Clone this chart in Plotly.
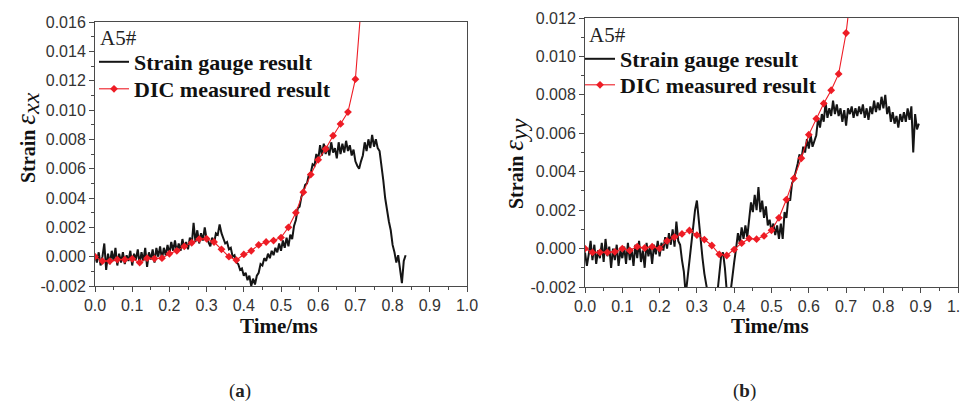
import numpy as np
import plotly.graph_objects as go

W, H = 968, 402

# ---------------- data ----------------
GAUGE_STEP_MS = 0.005  # sampling step of the strain-gauge records

gauge_xx = [
    0.0001, -0.0004, 0.0003, -0.0006, 0.0000, 0.0009, -0.0009, 0.0002, -0.0005, 0.0004,
    -0.0003, 0.0006, -0.0006, 0.0002, -0.0004, 0.0003, -0.0005, 0.0001, -0.0003, 0.0004,
    -0.0006, 0.0002, -0.0002, 0.0005, -0.0005, 0.0003, -0.0003, 0.0006, -0.0007, 0.0003,
    -0.0002, 0.0005, -0.0004, 0.0006, 0.0000, 0.0007, -0.0002, 0.0006, 0.0001, 0.0008,
    0.0002, 0.0010, 0.0004, 0.0011, 0.0003, 0.0009, 0.0004, 0.0012, 0.0006, 0.0010,
    0.0005, 0.0013, 0.0008, 0.0023, 0.0010, 0.0018, 0.0009, 0.0016, 0.0011, 0.0020,
    0.0012, 0.0010, 0.0007, 0.0013, 0.0009, 0.0016, 0.0015, 0.0022, 0.0016, 0.0012,
    0.0009, 0.0010, 0.0005, 0.0006, 0.0000, 0.0001, -0.0004, -0.0005, -0.0009, -0.0008,
    -0.0013, -0.0011, -0.0016, -0.0013, -0.0020, -0.0015, -0.0019, -0.0013, -0.0011, -0.0005,
    -0.0006, -0.0001, -0.0003, 0.0002, -0.0001, 0.0004, 0.0001, 0.0006, 0.0003, 0.0009,
    0.0004, 0.0011, 0.0006, 0.0013, 0.0007, 0.0015, 0.0012, 0.0021, 0.0025, 0.0033,
    0.0034, 0.0041, 0.0044, 0.0049, 0.0050, 0.0056, 0.0057, 0.0063, 0.0062, 0.0070,
    0.0066, 0.0076, 0.0069, 0.0077, 0.0070, 0.0075, 0.0069, 0.0078, 0.0071, 0.0074,
    0.0067, 0.0078, 0.0070, 0.0077, 0.0071, 0.0079, 0.0072, 0.0076, 0.0069, 0.0073,
    0.0065, 0.0062, 0.0060, 0.0065, 0.0069, 0.0078, 0.0072, 0.0080, 0.0074, 0.0083,
    0.0075, 0.0080, 0.0074, 0.0072, 0.0063, 0.0052, 0.0040, 0.0030, 0.0024, 0.0018,
    0.0008, 0.0003, -0.0004, 0.0001, -0.0010, -0.0018, -0.0003, 0.0001,
]

gauge_yy = [
    -0.0002, -0.0009, -0.0003, 0.0004, -0.0006, 0.0002, -0.0008, -0.0001, -0.0005, 0.0003,
    -0.0007, 0.0005, -0.0004, 0.0001, -0.0010, 0.0000, -0.0006, 0.0002, -0.0009, -0.0001,
    -0.0005, 0.0001, -0.0008, 0.0003, -0.0006, 0.0000, -0.0009, 0.0002, -0.0005, 0.0004,
    -0.0007, -0.0001, -0.0010, 0.0003, -0.0004, 0.0001, -0.0008, 0.0002, -0.0003, 0.0004,
    -0.0004, 0.0003, -0.0001, 0.0006, 0.0000, 0.0008, 0.0002, 0.0010, 0.0001, 0.0014,
    0.0004, 0.0002, -0.0006, -0.0012, -0.0024, -0.0015, -0.0005, 0.0003, 0.0010, 0.0020,
    0.0025, 0.0014, 0.0005, -0.0005, -0.0013, -0.0020, -0.0026, -0.0030, -0.0032, -0.0030,
    -0.0028, -0.0023, -0.0012, -0.0004, -0.0002, -0.0010, -0.0022, -0.0026, -0.0023, -0.0014,
    -0.0007, 0.0000, 0.0008, 0.0003, 0.0011, 0.0005, 0.0012, 0.0006, 0.0017, 0.0024,
    0.0019, 0.0028, 0.0020, 0.0032, 0.0019, 0.0025, 0.0016, 0.0022, 0.0012, 0.0015,
    0.0009, 0.0013, 0.0007, 0.0012, 0.0005, 0.0013, 0.0005, 0.0019, 0.0016, 0.0026,
    0.0025, 0.0034, 0.0036, 0.0041, 0.0044, 0.0049, 0.0046, 0.0053, 0.0050, 0.0057,
    0.0052, 0.0059, 0.0053, 0.0056, 0.0059, 0.0068, 0.0063, 0.0070, 0.0066, 0.0076,
    0.0068, 0.0073, 0.0069, 0.0077, 0.0070, 0.0075, 0.0069, 0.0073, 0.0066, 0.0072,
    0.0064, 0.0073, 0.0070, 0.0074, 0.0068, 0.0073, 0.0069, 0.0074, 0.0070, 0.0075,
    0.0068, 0.0073, 0.0067, 0.0074, 0.0070, 0.0077, 0.0071, 0.0076, 0.0072, 0.0079,
    0.0073, 0.0080, 0.0070, 0.0074, 0.0066, 0.0071, 0.0065, 0.0069, 0.0063, 0.0070,
    0.0066, 0.0071, 0.0066, 0.0073, 0.0067, 0.0074, 0.0050, 0.0070, 0.0062, 0.0065,
]

dic_time = [0.00, 0.02, 0.04, 0.06, 0.08, 0.10, 0.12, 0.14, 0.16, 0.18,
            0.20, 0.22, 0.24, 0.26, 0.28, 0.30, 0.32, 0.34, 0.36, 0.38,
            0.40, 0.42, 0.44, 0.46, 0.48, 0.50, 0.52, 0.54, 0.56, 0.58,
            0.60, 0.62, 0.64, 0.66, 0.68, 0.70, 0.72]

dic_xx = [0.0000, -0.0003, -0.0003, -0.0002, -0.0002, -0.00015, -0.0004, -0.0001, -0.00013, -0.0001,
          0.0002, 0.0004, 0.0007, 0.00095, 0.0012, 0.00122, 0.0010, 0.0005, 0.0000, -0.00023,
          0.00015, 0.0004, 0.0008, 0.0010, 0.0011, 0.0013, 0.0020, 0.0030, 0.0044, 0.0056,
          0.0066, 0.00734, 0.00825, 0.00905, 0.00986, 0.0121, 0.0186]

dic_yy = [0.0000, -0.0002, -0.0002, -0.0002, -0.00017, 0.0000, -0.0001, 0.0001, 0.00003, 0.0001,
          0.0000, 0.0004, 0.0006, 0.00076, 0.00094, 0.0007, 0.00047, 0.00016, -0.0003, -0.00036,
          -0.00005, 0.00028, 0.00052, 0.00049, 0.00066, 0.00095, 0.0016, 0.00255, 0.00365, 0.0047,
          0.00593, 0.00676, 0.00755, 0.00824, 0.00909, 0.01122, 0.0145]

x_tick_vals = [0.0, 0.1, 0.2, 0.3, 0.4, 0.5, 0.6, 0.7, 0.8, 0.9, 1.0]
x_tick_text = ["0.0", "0.1", "0.2", "0.3", "0.4", "0.5", "0.6", "0.7", "0.8", "0.9", "1.0"]
x_minor_vals = [0.05, 0.15, 0.25, 0.35, 0.45, 0.55, 0.65, 0.75, 0.85, 0.95]

xx_tick_vals = [-0.002, 0.0, 0.002, 0.004, 0.006, 0.008, 0.010, 0.012, 0.014, 0.016]
xx_tick_text = ["-0.002", "0.000", "0.002", "0.004", "0.006", "0.008", "0.010", "0.012", "0.014", "0.016"]
xx_minor_vals = [-0.001, 0.001, 0.003, 0.005, 0.007, 0.009, 0.011, 0.013, 0.015]

yy_tick_vals = [-0.002, 0.0, 0.002, 0.004, 0.006, 0.008, 0.010, 0.012]
yy_tick_text = ["-0.002", "0.000", "0.002", "0.004", "0.006", "0.008", "0.010", "0.012"]
yy_minor_vals = [-0.001, 0.001, 0.003, 0.005, 0.007, 0.009, 0.011]

series_names = ["Strain gauge result", "DIC measured result"]
specimen_label = "A5#"

t_xx = np.round(np.arange(len(gauge_xx)) * GAUGE_STEP_MS, 4)
t_yy = np.round(np.arange(len(gauge_yy)) * GAUGE_STEP_MS, 4)

# ---------------- styling ----------------
BLACK = "#151515"
RED = "#ee1c25"
AXIS = "#4a4a4a"
TICKFONT = dict(family="Liberation Sans, Arial, sans-serif", size=16, color="#333333")
SERIF = "Liberation Serif, Times New Roman, serif"


def px(x):
    return x / W


def py(y):
    return 1 - y / H


fig = go.Figure()

fig.add_trace(go.Scatter(x=t_xx, y=gauge_xx, mode="lines", name=series_names[0],
                         line=dict(color=BLACK, width=2), xaxis="x", yaxis="y", legend="legend"))
fig.add_trace(go.Scatter(x=dic_time, y=dic_xx, mode="lines+markers", name=series_names[1],
                         line=dict(color=RED, width=1.1),
                         marker=dict(symbol="diamond", size=6, color=RED),
                         xaxis="x", yaxis="y", legend="legend3"))
fig.add_trace(go.Scatter(x=t_yy, y=gauge_yy, mode="lines", name=series_names[0],
                         line=dict(color=BLACK, width=2), xaxis="x2", yaxis="y2", legend="legend2"))
fig.add_trace(go.Scatter(x=dic_time, y=dic_yy, mode="lines+markers", name=series_names[1],
                         line=dict(color=RED, width=1.1),
                         marker=dict(symbol="diamond", size=6, color=RED),
                         xaxis="x2", yaxis="y2", legend="legend4"))


def xaxis_style(domain, anchor):
    return dict(domain=domain, anchor=anchor, range=[0, 1.0], tickmode="array",
                tickvals=x_tick_vals, ticktext=x_tick_text, ticks="outside", ticklen=5,
                tickwidth=1, tickcolor=AXIS, showline=True, linecolor=AXIS, linewidth=1,
                mirror=True, showgrid=False, zeroline=False, tickfont=TICKFONT,
                automargin=False,
                minor=dict(tickmode="array", tickvals=x_minor_vals, ticks="outside",
                           ticklen=3, tickcolor=AXIS, showgrid=False))


def yaxis_style(domain, anchor, rng, vals, text, minor_vals):
    return dict(domain=domain, anchor=anchor, range=rng, tickmode="array",
                tickvals=vals, ticktext=text, ticks="outside", ticklen=5,
                tickwidth=1, tickcolor=AXIS, showline=True, linecolor=AXIS, linewidth=1,
                mirror=True, showgrid=False, zeroline=False, tickfont=TICKFONT,
                automargin=False,
                minor=dict(tickmode="array", tickvals=minor_vals, ticks="outside",
                           ticklen=3, tickcolor=AXIS, showgrid=False))


legend_common = dict(bgcolor="rgba(0,0,0,0)", borderwidth=0, xanchor="left", yanchor="top",
                     font=dict(family=SERIF, size=22, color="#111111", weight="bold"),
                     itemwidth=30, tracegroupgap=0)

ytitle_xx = ("<b>Strain </b><span style='font-size:27px'><i>ε</i></span>"
             "<sub><span style='font-size:24px'><i>xx</i></span></sub>")
ytitle_yy = ("<b>Strain </b><span style='font-size:27px'><i>ε</i></span>"
             "<sub><span style='font-size:24px'><i>yy</i></span></sub>")

annotations = [
    dict(text=specimen_label, x=px(90), y=py(30), xref="paper", yref="paper",
         xanchor="left", yanchor="middle", showarrow=False,
         font=dict(family=SERIF, size=21, color="#222222")),
    dict(text=specimen_label, x=px(579), y=py(27), xref="paper", yref="paper",
         xanchor="left", yanchor="middle", showarrow=False,
         font=dict(family=SERIF, size=21, color="#222222")),
    dict(text="<b>Time/ms</b>", x=px(271), y=py(318), xref="paper", yref="paper",
         xanchor="center", yanchor="middle", showarrow=False,
         font=dict(family=SERIF, size=21, color="#111111")),
    dict(text="<b>Time/ms</b>", x=px(762), y=py(318), xref="paper", yref="paper",
         xanchor="center", yanchor="middle", showarrow=False,
         font=dict(family=SERIF, size=21, color="#111111")),
    dict(text=ytitle_xx, x=px(19), y=py(130),
         xref="paper", yref="paper", xanchor="center", yanchor="middle", textangle=-90,
         showarrow=False, font=dict(family=SERIF, size=20, color="#111111")),
    dict(text=ytitle_yy, x=px(507), y=py(155),
         xref="paper", yref="paper", xanchor="center", yanchor="middle", textangle=-90,
         showarrow=False, font=dict(family=SERIF, size=20, color="#111111")),
    dict(text="(<b>a</b>)", x=px(232), y=py(383), xref="paper", yref="paper",
         xanchor="center", yanchor="middle", showarrow=False,
         font=dict(family=SERIF, size=19, color="#222222")),
    dict(text="(<b>b</b>)", x=px(736), y=py(383), xref="paper", yref="paper",
         xanchor="center", yanchor="middle", showarrow=False,
         font=dict(family=SERIF, size=19, color="#222222")),
]

fig.update_layout(
    width=W, height=H, margin=dict(l=0, r=0, t=0, b=0, autoexpand=False),
    paper_bgcolor="white", plot_bgcolor="white",
    xaxis=xaxis_style([px(87), px(459)], "y"),
    yaxis=yaxis_style([py(278), py(14)], "x", [-0.002, 0.016], xx_tick_vals, xx_tick_text, xx_minor_vals),
    xaxis2=xaxis_style([px(577), px(950)], "y2"),
    yaxis2=yaxis_style([py(279), py(10)], "x2", [-0.002, 0.012], yy_tick_vals, yy_tick_text, yy_minor_vals),
    legend=dict(x=px(86), y=py(33), **legend_common),
    legend3=dict(x=px(86), y=py(60), **legend_common),
    legend2=dict(x=px(572), y=py(30), **legend_common),
    legend4=dict(x=px(572), y=py(56), **legend_common),
    annotations=annotations,
    showlegend=True,
)

fig.write_html("out.html")
